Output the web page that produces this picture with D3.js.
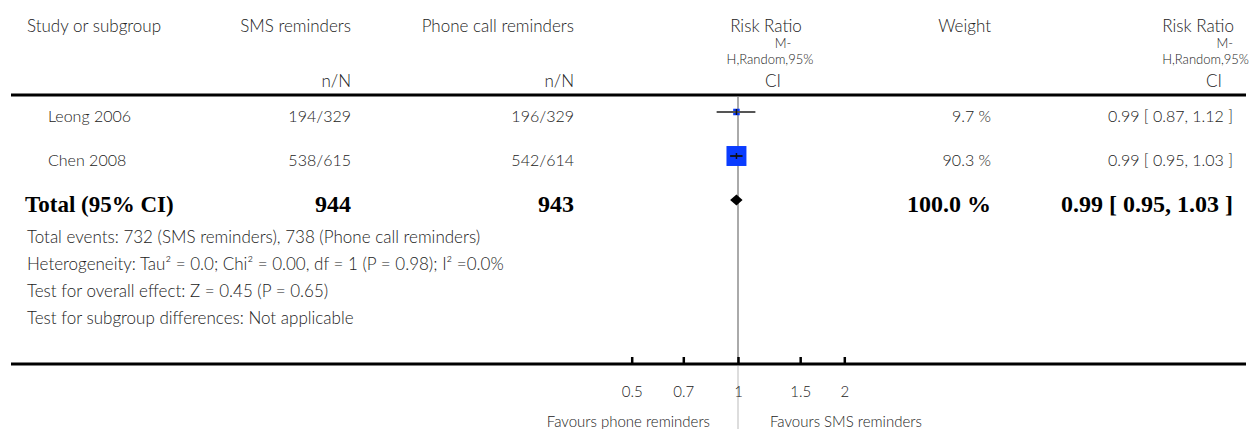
<!DOCTYPE html>
<html>
<head>
<meta charset="utf-8">
<script src="https://cdn.jsdelivr.net/npm/d3@7"></script>
<style>
  body { margin: 0; background: #fff; }
  text { font-family: Lato, 'Open Sans', sans-serif; font-weight: 300; fill: #222; }
  .bold { font-family: 'Liberation Serif', 'DejaVu Serif', serif; font-weight: bold; fill: #000; }
</style>
</head>
<body>
<div id="forest"></div>
<script>
// Forest plot - SMS vs phone call reminders
const studies = ['Leong 2006', 'Chen 2008'];
const smsEvents = [194, 538];
const smsTotal = [329, 615];
const phoneEvents = [196, 542];
const phoneTotal = [329, 614];
const weights = [9.7, 90.3];
const riskRatio = [0.99, 0.99];
const ciLow = [0.87, 0.95];
const ciHigh = [1.12, 1.03];

// pooled estimate: [rr, low, high]
const pooled = [0.99, 0.95, 1.03];
const totalLabels = ['Total (95% CI)', '944', '943', '100.0 %', '0.99 [ 0.95, 1.03 ]'];

const footnotes = [
  'Total events: 732 (SMS reminders), 738 (Phone call reminders)',
  'Heterogeneity: Tau\u00b2 = 0.0; Chi\u00b2 = 0.00, df = 1 (P = 0.98); I\u00b2 =0.0%',
  'Test for overall effect: Z = 0.45 (P = 0.65)',
  'Test for subgroup differences: Not applicable'
];

const tickValues = [0.5, 0.7, 1, 1.5, 2];
const favours = ['Favours phone reminders', 'Favours SMS reminders'];

let svgwidth = 1259;
let svgheight = 429;

let svg = d3
  .select('#forest')
  .append('svg')
  .attr('width', svgwidth)
  .attr('height', svgheight);

// scales
let xscale = d3.scaleLog().domain([0.5, 2]).range([631.7, 844.3]);
let yrow = d3.scaleLinear().domain([0, 1]).range([112, 156]);
let boxsize = d3.scaleSqrt().domain([0, 100]).range([0, 21]);

// column right edges
const colSms = 351;
const colPhone = 574;
const colWeight = 991;
const colRR = 1233;

// header
svg.append('text').text('Study or subgroup').attr('x', 27).attr('y', 32).attr('font-size', 17);
svg.append('text').text('SMS reminders').attr('x', colSms).attr('y', 32).attr('font-size', 17).attr('text-anchor', 'end');
svg.append('text').text('Phone call reminders').attr('x', colPhone).attr('y', 32).attr('font-size', 17).attr('text-anchor', 'end');
svg.append('text').text('n/N').attr('x', colSms).attr('y', 87).attr('font-size', 17).attr('text-anchor', 'end');
svg.append('text').text('n/N').attr('x', colPhone).attr('y', 87).attr('font-size', 17).attr('text-anchor', 'end');
svg.append('text').text('Weight').attr('x', colWeight).attr('y', 32).attr('font-size', 17).attr('text-anchor', 'end');

const rrHead = [
  ['Risk Ratio', 32, 17, 766, 1234],
  ['M-', 48, 13, 783, 1233],
  ['H,Random,95%', 63.5, 13, 770, 1249],
  ['CI', 87, 17, 773, 1222]
];
rrHead.forEach(function (h) {
  svg.append('text').text(h[0]).attr('x', h[3]).attr('y', h[1]).attr('font-size', h[2]).attr('text-anchor', 'middle');
  svg.append('text').text(h[0]).attr('x', h[4]).attr('y', h[1]).attr('font-size', h[2]).attr('text-anchor', 'end');
});

// rules
svg.append('line').attr('x1', 11).attr('x2', 1246).attr('y1', 95).attr('y2', 95)
  .attr('stroke', '#000').attr('stroke-width', 3);

// reference line at 1
svg.append('line').attr('x1', xscale(1)).attr('x2', xscale(1)).attr('y1', 97).attr('y2', 364)
  .attr('stroke', '#aaa').attr('stroke-width', 2);
svg.append('line').attr('x1', xscale(1)).attr('x2', xscale(1)).attr('y1', 366).attr('y2', svgheight)
  .attr('stroke', '#ddd').attr('stroke-width', 2);

// study rows
let rows = svg.selectAll('g.row')
  .data(studies)
  .join('g')
  .attr('class', 'row');

rows.append('text').text((d) => d).attr('x', 48).attr('y', (d, i) => yrow(i) + 10).attr('font-size', 16);
rows.append('text').text((d, i) => `${smsEvents[i]}/${smsTotal[i]}`)
  .attr('x', colSms).attr('y', (d, i) => yrow(i) + 10).attr('font-size', 16).attr('text-anchor', 'end');
rows.append('text').text((d, i) => `${phoneEvents[i]}/${phoneTotal[i]}`)
  .attr('x', colPhone).attr('y', (d, i) => yrow(i) + 10).attr('font-size', 16).attr('text-anchor', 'end');
rows.append('text').text((d, i) => `${weights[i].toFixed(1)} %`)
  .attr('x', colWeight).attr('y', (d, i) => yrow(i) + 10).attr('font-size', 16).attr('text-anchor', 'end');
rows.append('text').text((d, i) => `${riskRatio[i].toFixed(2)} [ ${ciLow[i].toFixed(2)}, ${ciHigh[i].toFixed(2)} ]`)
  .attr('x', colRR).attr('y', (d, i) => yrow(i) + 10).attr('font-size', 16).attr('text-anchor', 'end');

// boxes
rows.append('rect')
  .attr('x', (d, i) => xscale(riskRatio[i]) - boxsize(weights[i]) / 2)
  .attr('y', (d, i) => yrow(i) - boxsize(weights[i]) / 2)
  .attr('width', (d, i) => boxsize(weights[i]))
  .attr('height', (d, i) => boxsize(weights[i]))
  .attr('fill', '#0a3cff');
// whiskers
rows.append('line')
  .attr('x1', (d, i) => xscale(ciLow[i]))
  .attr('x2', (d, i) => xscale(ciHigh[i]))
  .attr('y1', (d, i) => yrow(i))
  .attr('y2', (d, i) => yrow(i))
  .attr('stroke', (d, i) => (i === 0 ? '#555' : '#111'))
  .attr('stroke-width', 1.8);
rows.append('line')
  .attr('x1', (d, i) => xscale(riskRatio[i]))
  .attr('x2', (d, i) => xscale(riskRatio[i]))
  .attr('y1', (d, i) => yrow(i) - 3)
  .attr('y2', (d, i) => yrow(i) + 3)
  .attr('stroke', '#111')
  .attr('stroke-width', 1.5);

// total row
let ytot = yrow(2);
svg.append('text').attr('class', 'bold').text(totalLabels[0]).attr('x', 25).attr('y', ytot + 12).attr('font-size', 23);
svg.append('text').attr('class', 'bold').text(totalLabels[1]).attr('x', colSms).attr('y', ytot + 12).attr('font-size', 24).attr('text-anchor', 'end');
svg.append('text').attr('class', 'bold').text(totalLabels[2]).attr('x', colPhone).attr('y', ytot + 12).attr('font-size', 24).attr('text-anchor', 'end');
svg.append('text').attr('class', 'bold').text(totalLabels[3]).attr('x', colWeight).attr('y', ytot + 12).attr('font-size', 24).attr('text-anchor', 'end');
svg.append('text').attr('class', 'bold').text(totalLabels[4]).attr('x', colRR).attr('y', ytot + 12).attr('font-size', 24).attr('text-anchor', 'end');

// pooled diamond
let diamond = [
  [xscale(pooled[1]), ytot],
  [xscale(pooled[0]), ytot - 5.5],
  [xscale(pooled[2]), ytot],
  [xscale(pooled[0]), ytot + 5.5]
];
svg.append('path').attr('d', d3.line()(diamond) + 'Z').attr('fill', '#000');

// footnotes
svg.selectAll('text.foot')
  .data(footnotes)
  .join('text')
  .attr('class', 'foot')
  .text((d) => d)
  .attr('x', 27)
  .attr('y', (d, i) => 243 + i * 27)
  .attr('font-size', 17);

// bottom axis
svg.append('line').attr('x1', 11).attr('x2', 1246).attr('y1', 364).attr('y2', 364)
  .attr('stroke', '#000').attr('stroke-width', 3);

let xaxis = d3.axisBottom(xscale)
  .tickValues(tickValues)
  .tickFormat(d3.format(''))
  .tickSizeInner(-7)
  .tickSizeOuter(0)
  .tickPadding(22);

let ax = svg.append('g').attr('transform', 'translate(0, 364)').call(xaxis);
ax.select('.domain').remove();
ax.selectAll('.tick line').attr('stroke', '#000').attr('stroke-width', 2.5);
ax.selectAll('.tick text')
  .attr('font-size', 15)
  .attr('font-family', 'Lato, sans-serif')
  .attr('fill', '#222');

// favours labels
svg.append('text').text(favours[0]).attr('x', 710).attr('y', 427).attr('font-size', 15).attr('text-anchor', 'end');
svg.append('text').text(favours[1]).attr('x', 770).attr('y', 427).attr('font-size', 15);
</script>
</body>
</html>
